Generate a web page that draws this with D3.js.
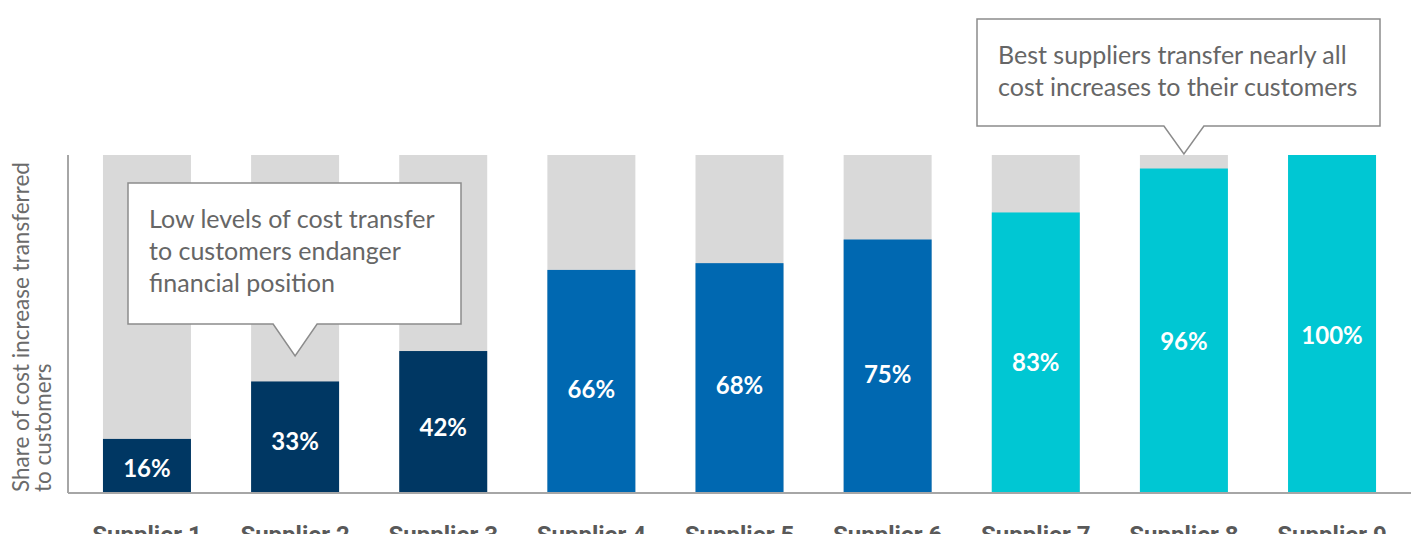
<!DOCTYPE html>
<html>
<head>
<meta charset="utf-8">
<script src="https://cdn.jsdelivr.net/npm/d3@7"></script>
<style>
  body { margin: 0; background: #fff; }
  svg { display: block; font-family: Lato, "Open Sans", sans-serif; }
</style>
</head>
<body>
<svg id="chart" width="1411" height="534"></svg>
<script>
// Chart data
const suppliers = ["Supplier 1", "Supplier 2", "Supplier 3", "Supplier 4", "Supplier 5",
                   "Supplier 6", "Supplier 7", "Supplier 8", "Supplier 9"];
const shares = [16, 33, 42, 66, 68, 75, 83, 96, 100];
const groups = ["low", "low", "low", "mid", "mid", "mid", "best", "best", "best"];
const yTitle = ["Share of cost increase transferred", "to customers"];
const calloutLow = ["Low levels of cost transfer", "to customers endanger", "financial position"];
const calloutBest = ["Best suppliers transfer nearly all", "cost increases to their customers"];

const svg = d3.select("#chart");
const margin = { top: 155, bottom: 41, left: 68, right: 0 };
const width = 1411 - margin.left - margin.right;
const height = 534 - margin.top - margin.bottom;

const colour = d3.scaleOrdinal()
  .domain(["low", "mid", "best"])
  .range(["#003763", "#0068b1", "#00c7d3"]);

const chart = svg.append("g")
  .attr("transform", `translate(${margin.left},${margin.top})`);

// Scales
const xScale = d3.scaleBand()
  .domain(suppliers)
  .range([0, 1343])
  .paddingInner(0.406)
  .paddingOuter(0.236);

const yScale = d3.scaleLinear()
  .domain([0, 100])
  .range([height, 0]);

// Background (100%) bars
chart.selectAll("rect.bg")
  .data(suppliers)
  .join("rect")
    .attr("class", "bg")
    .attr("x", d => xScale(d))
    .attr("y", yScale(100))
    .attr("width", xScale.bandwidth())
    .attr("height", height - yScale(100))
    .attr("fill", "#d9d9d9");

// Value bars
chart.selectAll("rect.bar")
  .data(shares)
  .join("rect")
    .attr("class", "bar")
    .attr("x", (d, i) => xScale(suppliers[i]))
    .attr("y", d => yScale(d))
    .attr("width", xScale.bandwidth())
    .attr("height", d => height - yScale(d))
    .attr("fill", (d, i) => colour(groups[i]));

// Value labels
chart.selectAll("text.value")
  .data(shares)
  .join("text")
    .attr("class", "value")
    .attr("x", (d, i) => xScale(suppliers[i]) + xScale.bandwidth() / 2)
    .attr("y", d => yScale(d * 0.47))
    .attr("text-anchor", "middle")
    .attr("dominant-baseline", "central")
    .attr("fill", "#fff")
    .attr("font-size", 24)
    .attr("font-weight", "bold")
    .text(d => d + "%");

// Axes
const xAxis = d3.axisBottom(xScale).tickSize(0).tickPadding(33);
const xAxisG = chart.append("g")
  .attr("transform", `translate(0,${height})`)
  .call(xAxis);
xAxisG.select(".domain")
  .attr("d", `M0,0H${width}`)
  .attr("stroke", "#a6a6a6")
  .attr("stroke-width", 2);
xAxisG.selectAll("text")
  .attr("font-family", "Roboto, sans-serif")
  .attr("font-size", 24)
  .attr("font-weight", "bold")
  .attr("fill", "#595959");

chart.append("line")
  .attr("x1", 0).attr("x2", 0)
  .attr("y1", 0).attr("y2", height)
  .attr("stroke", "#a6a6a6")
  .attr("stroke-width", 2);

// Y-axis title
const yt = svg.append("text")
  .attr("transform", `translate(29,${margin.top + height - 1}) rotate(-90)`)
  .attr("fill", "#6b6b6b")
  .attr("font-size", 22.5);
yt.selectAll("tspan")
  .data(yTitle)
  .join("tspan")
    .attr("x", 0)
    .attr("dy", (d, i) => i === 0 ? 0 : 22)
    .text(d => d);

// Callouts: box with a downward pointer
function callout(lines, box, tipX, tipY, halfBase) {
  const [x0, y0, x1, y1] = box;
  const p = d3.path();
  p.moveTo(x0, y0);
  p.lineTo(x1, y0);
  p.lineTo(x1, y1);
  p.lineTo(tipX + halfBase, y1);
  p.lineTo(tipX, tipY);
  p.lineTo(tipX - halfBase, y1);
  p.lineTo(x0, y1);
  p.closePath();
  svg.append("path")
    .attr("d", p.toString())
    .attr("fill", "#fff")
    .attr("stroke", "#8c8c8c")
    .attr("stroke-width", 1.5);
  const t = svg.append("text")
    .attr("fill", "#666")
    .attr("font-size", 25);
  t.selectAll("tspan")
    .data(lines)
    .join("tspan")
      .attr("x", x0 + 21)
      .attr("y", (d, i) => y0 + 45 + i * 32)
      .text(d => d);
}

const xCenter = s => margin.left + xScale(s) + xScale.bandwidth() / 2;
callout(calloutLow, [128, 183, 461, 324], xCenter("Supplier 2"), 356, 22);
callout(calloutBest, [977, 19, 1380, 126], xCenter("Supplier 8"), 154, 20);
</script>
</body>
</html>
